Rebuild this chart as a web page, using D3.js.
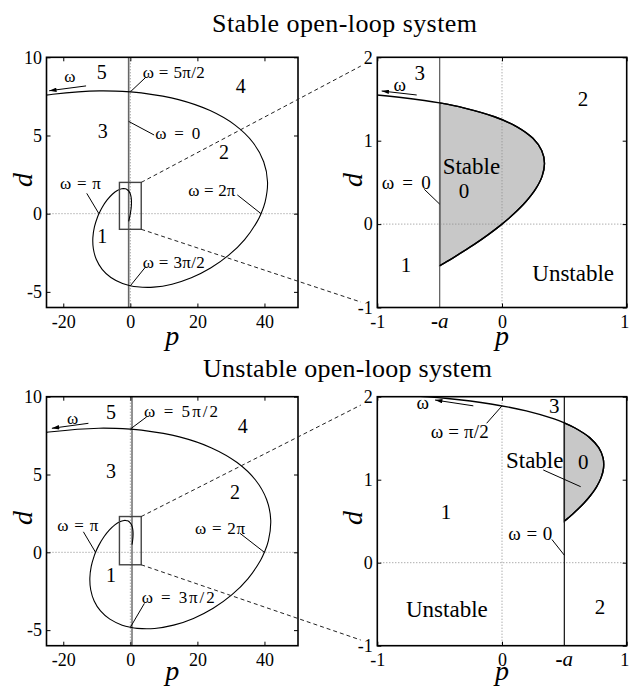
<!DOCTYPE html>
<html>
<head>
<meta charset="utf-8">
<script src="https://cdn.jsdelivr.net/npm/d3@7"></script>
<style>
  body { margin: 0; background: #fff; }
  svg text { font-family: "Liberation Serif", "Times New Roman", serif; fill: #000; }
</style>
</head>
<body>
<svg id="fig" width="630" height="687"></svg>
<script>
// D-decomposition boundaries in the (p, d) plane, traced along increasing ω.
// Stable open loop (a = 0.5)
const stableP = [-0.5, -0.4875, -0.4508, -0.3917, -0.3132, -0.2194, -0.1155, -0.0076, 0.0975, 0.1927,
  0.2702, 0.3221, 0.3406, 0.3183, 0.2482, 0.1238, -0.0601, -0.3078, -0.5, -0.6225,
  -1.0055, -1.4565, -2.554, -3.879, -5.364, -6.916, -8.415, -9.370, -9.723, -10.693,
  -11.174, -11.027, -10.131, -8.404, -5.796, -2.318, 0, 1.972, 6.950, 12.434,
  18.190, 23.935, 29.346, 34.087, 37.807, 38.978, 40.185, 40.916, 39.766, 36.564,
  31.235, 23.793, 14.389, 3.258, 0, -9.239, -23.132, -29.503];
const stableD = [-0.5, -0.489, -0.457, -0.404, -0.331, -0.240, -0.132, -0.009, 0.126, 0.270,
  0.421, 0.575, 0.730, 0.882, 1.028, 1.164, 1.287, 1.394, 1.453, 1.482,
  1.549, 1.591, 1.595, 1.481, 1.241, 0.878, 0.400, 0, -0.178, -0.831,
  -1.532, -2.245, -2.933, -3.557, -4.079, -4.463, -4.606, -4.678, -4.699, -4.509,
  -4.102, -3.479, -2.655, -1.653, -0.509, 0, 0.737, 2.032, 3.324, 4.552,
  5.660, 6.590, 7.292, 7.724, 7.790, 7.853, 7.634, 7.434];

// Unstable open loop (a = -0.5)
const unstableP = [0.5, 0.5075, 0.5292, 0.5636, 0.6079, 0.6582, 0.7098, 0.7572, 0.7942, 0.8143,
  0.8105, 0.7757, 0.7030, 0.5858, 0.5, 0.4182, 0.1945, -0.0894, -0.4366, -0.8497,
  -1.3288, -1.8725, -3.143, -4.616, -6.221, -7.858, -9.405, -10.370, -10.722, -11.660,
  -12.071, -11.818, -10.784, -8.894, -6.103, -2.430, 0, 2.060, 7.234, 12.902,
  18.825, 24.711, 30.231, 35.047, 38.804, 39.978, 41.178, 41.866, 40.636, 37.318,
  31.844, 24.232, 14.641, 3.312, 0, -9.385, -23.479, -29.935];
const unstableD = [0.5, 0.509, 0.537, 0.581, 0.643, 0.719, 0.809, 0.911, 1.022, 1.140,
  1.262, 1.385, 1.507, 1.623, 1.684, 1.732, 1.829, 1.912, 1.978, 2.023,
  2.047, 2.046, 1.963, 1.762, 1.439, 0.998, 0.447, 0, -0.196, -0.906,
  -1.655, -2.406, -3.122, -3.764, -4.295, -4.679, -4.819, -4.886, -4.890, -4.679,
  -4.245, -3.592, -2.735, -1.700, -0.522, 0, 0.755, 2.080, 3.396, 4.646,
  5.770, 6.711, 7.420, 7.852, 7.918, 7.977, 7.749, 7.543];

const aStable = 0.5;
const aUnstable = -0.5;

// Tick values
const wideTicksP = [-20, 0, 20, 40];
const wideTicksD = [-5, 0, 5, 10];
const zoomTicksP = [-1, 0, 1];
const zoomTicksD = [-1, 0, 1, 2];

const titles = ["Stable open-loop system", "Unstable open-loop system"];

// ---------- annotations (data coordinates) ----------
const stableWideNotes = {
  nums: [["5", -8.5, 9.08], ["4", 32.9, 8.17], ["3", -8.2, 5.29], ["2", 27.9, 3.96], ["1", -8.35, -1.43]],
  eqs: [["ω = 5π/2", 3.7, 9.08, 62], ["ω = 0", 7.4, 5.14, 45], ["ω = 2π", 17.3, 1.52, 47],
        ["ω = π", -21.0, 1.94, 41], ["ω = 3π/2", 3.7, -3.07, 62]],
  leaders: [[4.6, 8.72, 0, 7.79], [7.1, 5.03, -0.5, 5.9], [31.9, 1.2, 38.98, 0],
            [-13.0, 1.30, -9.37, 0], [4.6, -3.39, 0, -4.61]],
  omega: [-18.0, 8.8],
  arrow: [-13.2, 8.17, -24.2, 7.86],
  box: [-3.25, 3.25, -1, 2]
};
const stableZoomNotes = {
  nums: [["3", -0.66, 1.81], ["2", 0.65, 1.51], ["0", -0.305, 0.40], ["1", -0.77, -0.49]],
  words: [["Stable", -0.476, 0.70], ["Unstable", 0.243, -0.583]],
  eqs: [["ω = 0", -0.965, 0.50, 49]],
  leaders: [[-0.623, 0.417, -0.5, 0.24]],
  omega: [-0.82, 1.68],
  arrow: [-0.684, 1.548, -0.965, 1.596]
};
const unstableWideNotes = {
  nums: [["5", -5.76, 9.04], ["4", 33.5, 8.12], ["3", -5.76, 5.22], ["2", 31.2, 3.89], ["1", -5.76, -1.46]],
  eqs: [["ω = 5π/2", 4.1, 9.10, 74], ["ω = 2π", 19.3, 1.54, 50], ["ω = π", -21.8, 1.75, 41],
        ["ω = 3π/2", 3.4, -2.89, 73]],
  leaders: [[4.9, 8.71, 0, 7.92], [32.7, 1.22, 39.98, 0], [-14.0, 1.32, -10.37, 0], [4.2, -3.28, 0, -4.82]],
  omega: [-17.2, 8.61],
  arrow: [-12.5, 8.29, -23.4, 7.97],
  box: [-3.25, 3.25, -0.8, 2.3]
};
const unstableZoomNotes = {
  nums: [["3", 0.42, 1.89], ["0", 0.652, 1.22], ["1", -0.45, 0.62], ["2", 0.786, -0.53]],
  words: [["Stable", 0.032, 1.24], ["Unstable", -0.77, -0.56]],
  eqs: [["ω = π/2", -0.572, 1.58, 58], ["ω = 0", 0.05, 0.354, 44]],
  leaders: [[-0.123, 1.68, 0, 1.889], [0.331, 1.117, 0.631, 0.916], [0.4, 0.28, 0.5, 0.09]],
  omega: [-0.636, 1.93],
  arrow: [-0.23, 1.89, -0.537, 1.96]
};

const svg = d3.select("#fig");
const defs = svg.append("defs");
defs.append("marker")
  .attr("id", "head")
  .attr("viewBox", "0 0 10 6")
  .attr("refX", 10).attr("refY", 3)
  .attr("markerWidth", 8).attr("markerHeight", 4.4)
  .attr("markerUnits", "userSpaceOnUse")
  .attr("orient", "auto")
  .append("path").attr("d", "M0,0L10,3L0,6Z").attr("fill", "#000");

const panels = [
  { id: "sw", left: 46.5, right: 298, top: 57.3, bottom: 307.5, pDom: [-25, 50], dDom: [-6, 10],
    pTicks: wideTicksP, dTicks: wideTicksD, P: stableP, D: stableD, a: aStable, zoom: false,
    notes: stableWideNotes, pLabelY: 345, dLabelY: 180, vColor: "#666" },
  { id: "sz", left: 377.3, right: 626.7, top: 57.3, bottom: 307.5, pDom: [-1, 1], dDom: [-1, 2],
    pTicks: zoomTicksP, dTicks: zoomTicksD, P: stableP, D: stableD, a: aStable, zoom: true,
    notes: stableZoomNotes, pLabelY: 345, dLabelY: 180, vColor: "#666" },
  { id: "uw", left: 46.5, right: 298, top: 396.7, bottom: 645.7, pDom: [-25, 50], dDom: [-6, 10],
    pTicks: wideTicksP, dTicks: wideTicksD, P: unstableP, D: unstableD, a: aUnstable, zoom: false,
    notes: unstableWideNotes, pLabelY: 680, dLabelY: 518, vColor: "#777" },
  { id: "uz", left: 377.3, right: 626.7, top: 396.7, bottom: 645.7, pDom: [-1, 1], dDom: [-1, 2],
    pTicks: zoomTicksP, dTicks: zoomTicksD, P: unstableP, D: unstableD, a: aUnstable, zoom: true,
    notes: unstableZoomNotes, pLabelY: 680, dLabelY: 518, vColor: "#222" }
];

const scales = {};

function drawPanel(cfg) {
  const xs = d3.scaleLinear().domain(cfg.pDom).range([cfg.left, cfg.right]);
  const ys = d3.scaleLinear().domain(cfg.dDom).range([cfg.bottom, cfg.top]);
  scales[cfg.id] = { xs, ys };
  const g = svg.append("g");

  defs.append("clipPath").attr("id", "clip-" + cfg.id)
    .append("rect")
    .attr("x", cfg.left).attr("y", cfg.top)
    .attr("width", cfg.right - cfg.left).attr("height", cfg.bottom - cfg.top);
  const inner = g.append("g").attr("clip-path", `url(#clip-${cfg.id})`);

  const idx = d3.range(cfg.P.length);
  const line = d3.line()
    .x(i => xs(cfg.P[i])).y(i => ys(cfg.D[i]))
    .curve(d3.curveCatmullRom.alpha(0.5));

  // shaded stability region (zoomed panels): boundary arc closed along p = -a
  if (cfg.zoom) {
    const k = cfg.P.findIndex((v, i) => i > 2 && Math.abs(v + cfg.a) < 1e-6);
    inner.append("path")
      .attr("d", line(d3.range(k + 1)) + "Z")
      .attr("fill", "#c8c8c8")
      .attr("stroke", "#000").attr("stroke-width", 1.4);
  }

  // dotted zero lines
  inner.append("line")
    .attr("x1", xs(0)).attr("x2", xs(0)).attr("y1", cfg.top).attr("y2", cfg.bottom)
    .attr("stroke", "#8a8a8a").attr("stroke-width", 1).attr("stroke-dasharray", "1,2");
  inner.append("line")
    .attr("x1", cfg.left).attr("x2", cfg.right).attr("y1", ys(0)).attr("y2", ys(0))
    .attr("stroke", "#8a8a8a").attr("stroke-width", 1).attr("stroke-dasharray", "1,2");

  // real-root boundary p = -a
  inner.append("line")
    .attr("x1", xs(-cfg.a)).attr("x2", xs(-cfg.a)).attr("y1", cfg.top).attr("y2", cfg.bottom)
    .attr("stroke", cfg.vColor).attr("stroke-width", cfg.zoom ? 1.3 : 1.6);

  // complex-root boundary
  inner.append("path")
    .attr("d", line(idx))
    .attr("fill", "none").attr("stroke", "#000")
    .attr("stroke-width", cfg.zoom ? 1.4 : 1.1);

  // zoom window on the wide panels
  if (cfg.notes.box) {
    const b = cfg.notes.box;
    g.append("rect")
      .attr("x", xs(b[0])).attr("y", ys(b[3]))
      .attr("width", xs(b[1]) - xs(b[0])).attr("height", ys(b[2]) - ys(b[3]))
      .attr("fill", "none").attr("stroke", "#444").attr("stroke-width", 1.4);
  }

  // axes with inward ticks on all four sides
  const fmt = d => String(d);
  const axB = g.append("g").attr("transform", `translate(0,${cfg.bottom})`)
    .call(d3.axisBottom(xs).tickValues(cfg.pTicks).tickSize(-4).tickSizeOuter(0).tickPadding(8).tickFormat(fmt));
  const axT = g.append("g").attr("transform", `translate(0,${cfg.top})`)
    .call(d3.axisTop(xs).tickValues(cfg.pTicks).tickSize(-4).tickSizeOuter(0).tickFormat(""));
  const axL = g.append("g").attr("transform", `translate(${cfg.left},0)`)
    .call(d3.axisLeft(ys).tickValues(cfg.dTicks).tickSize(-4).tickSizeOuter(0).tickPadding(4.5).tickFormat(fmt));
  const axR = g.append("g").attr("transform", `translate(${cfg.right},0)`)
    .call(d3.axisRight(ys).tickValues(cfg.dTicks).tickSize(-4).tickSizeOuter(0).tickFormat(""));
  [axB, axT, axL, axR].forEach(ax => {
    ax.select(".domain").remove();
    ax.selectAll(".tick line").attr("stroke", "#000").attr("stroke-width", 1);
    ax.selectAll("text")
      .attr("font-family", '"Liberation Serif","Times New Roman",serif')
      .attr("font-size", 18).attr("fill", "#000");
  });
  // keep the last label of the zoomed p-axis inside the canvas
  if (cfg.zoom) {
    axB.selectAll(".tick text").filter(d => d === cfg.pDom[1]).attr("x", -2.5);
  }

  // frame
  g.append("rect")
    .attr("x", cfg.left).attr("y", cfg.top)
    .attr("width", cfg.right - cfg.left).attr("height", cfg.bottom - cfg.top)
    .attr("fill", "none").attr("stroke", "#000").attr("stroke-width", 1.6);

  // "-a" marker under the zoomed axis
  if (cfg.zoom) {
    const t = g.append("text")
      .attr("x", xs(-cfg.a)).attr("y", cfg.bottom + 20.5)
      .attr("text-anchor", "middle").attr("font-size", 21);
    t.append("tspan").attr("font-weight", "bold").text("-");
    t.append("tspan").attr("font-style", "italic").text("a");
  }

  // axis labels
  g.append("text")
    .attr("x", (cfg.left + cfg.right) / 2).attr("y", cfg.pLabelY)
    .attr("text-anchor", "middle").attr("font-style", "italic").attr("font-size", 28)
    .text("p");
  g.append("text")
    .attr("transform", `translate(${cfg.left - 15},${cfg.dLabelY}) rotate(-90)`)
    .attr("text-anchor", "middle").attr("font-style", "italic").attr("font-size", 28)
    .text("d");

  // annotations
  const n = cfg.notes;
  n.nums.forEach(([t, p, d]) => {
    g.append("text").attr("x", xs(p)).attr("y", ys(d)).attr("dy", "0.35em")
      .attr("text-anchor", "middle").attr("font-size", cfg.zoom ? 21 : 20).text(t);
  });
  (n.words || []).forEach(([t, p, d]) => {
    g.append("text").attr("x", xs(p)).attr("y", ys(d)).attr("dy", "0.35em")
      .attr("text-anchor", "start").attr("font-size", 23).text(t);
  });
  n.eqs.forEach(([t, p, d, w]) => {
    g.append("text").attr("x", xs(p)).attr("y", ys(d)).attr("dy", "0.35em")
      .attr("text-anchor", "start").attr("font-size", cfg.zoom ? 19 : 17)
      .attr("textLength", w).attr("lengthAdjust", "spacing").text(t);
  });
  n.leaders.forEach(([p1, d1, p2, d2]) => {
    g.append("line").attr("x1", xs(p1)).attr("y1", ys(d1)).attr("x2", xs(p2)).attr("y2", ys(d2))
      .attr("stroke", "#000").attr("stroke-width", 1);
  });
  g.append("text").attr("x", xs(n.omega[0])).attr("y", ys(n.omega[1])).attr("dy", "0.35em")
    .attr("text-anchor", "middle").attr("font-size", cfg.zoom ? 19 : 17).text("ω");
  const ar = n.arrow;
  g.append("line").attr("x1", xs(ar[0])).attr("y1", ys(ar[1])).attr("x2", xs(ar[2])).attr("y2", ys(ar[3]))
    .attr("stroke", "#000").attr("stroke-width", 1).attr("marker-end", "url(#head)");
}

panels.forEach(drawPanel);

// dashed connectors from each zoom window to its magnified panel
[[panels[0], panels[1]], [panels[2], panels[3]]].forEach(([w, z]) => {
  const sw = scales[w.id];
  const b = w.notes.box;
  const pairs = [
    [sw.xs(b[1]), sw.ys(b[3]), z.left, z.top],
    [sw.xs(b[1]), sw.ys(b[2]), z.left, z.bottom]
  ];
  pairs.forEach(([x1, y1, x2, y2]) => {
    const f = 0.93;
    svg.append("line")
      .attr("x1", x1).attr("y1", y1)
      .attr("x2", x1 + (x2 - x1) * f).attr("y2", y1 + (y2 - y1) * f)
      .attr("stroke", "#222").attr("stroke-width", 1).attr("stroke-dasharray", "4,3");
  });
});

// titles
svg.append("text").attr("x", 212).attr("y", 31.7).attr("font-size", 26)
  .attr("textLength", 265).attr("lengthAdjust", "spacing").text(titles[0]);
svg.append("text").attr("x", 203).attr("y", 377).attr("font-size", 26)
  .attr("textLength", 289).attr("lengthAdjust", "spacing").text(titles[1]);
</script>
</body>
</html>
